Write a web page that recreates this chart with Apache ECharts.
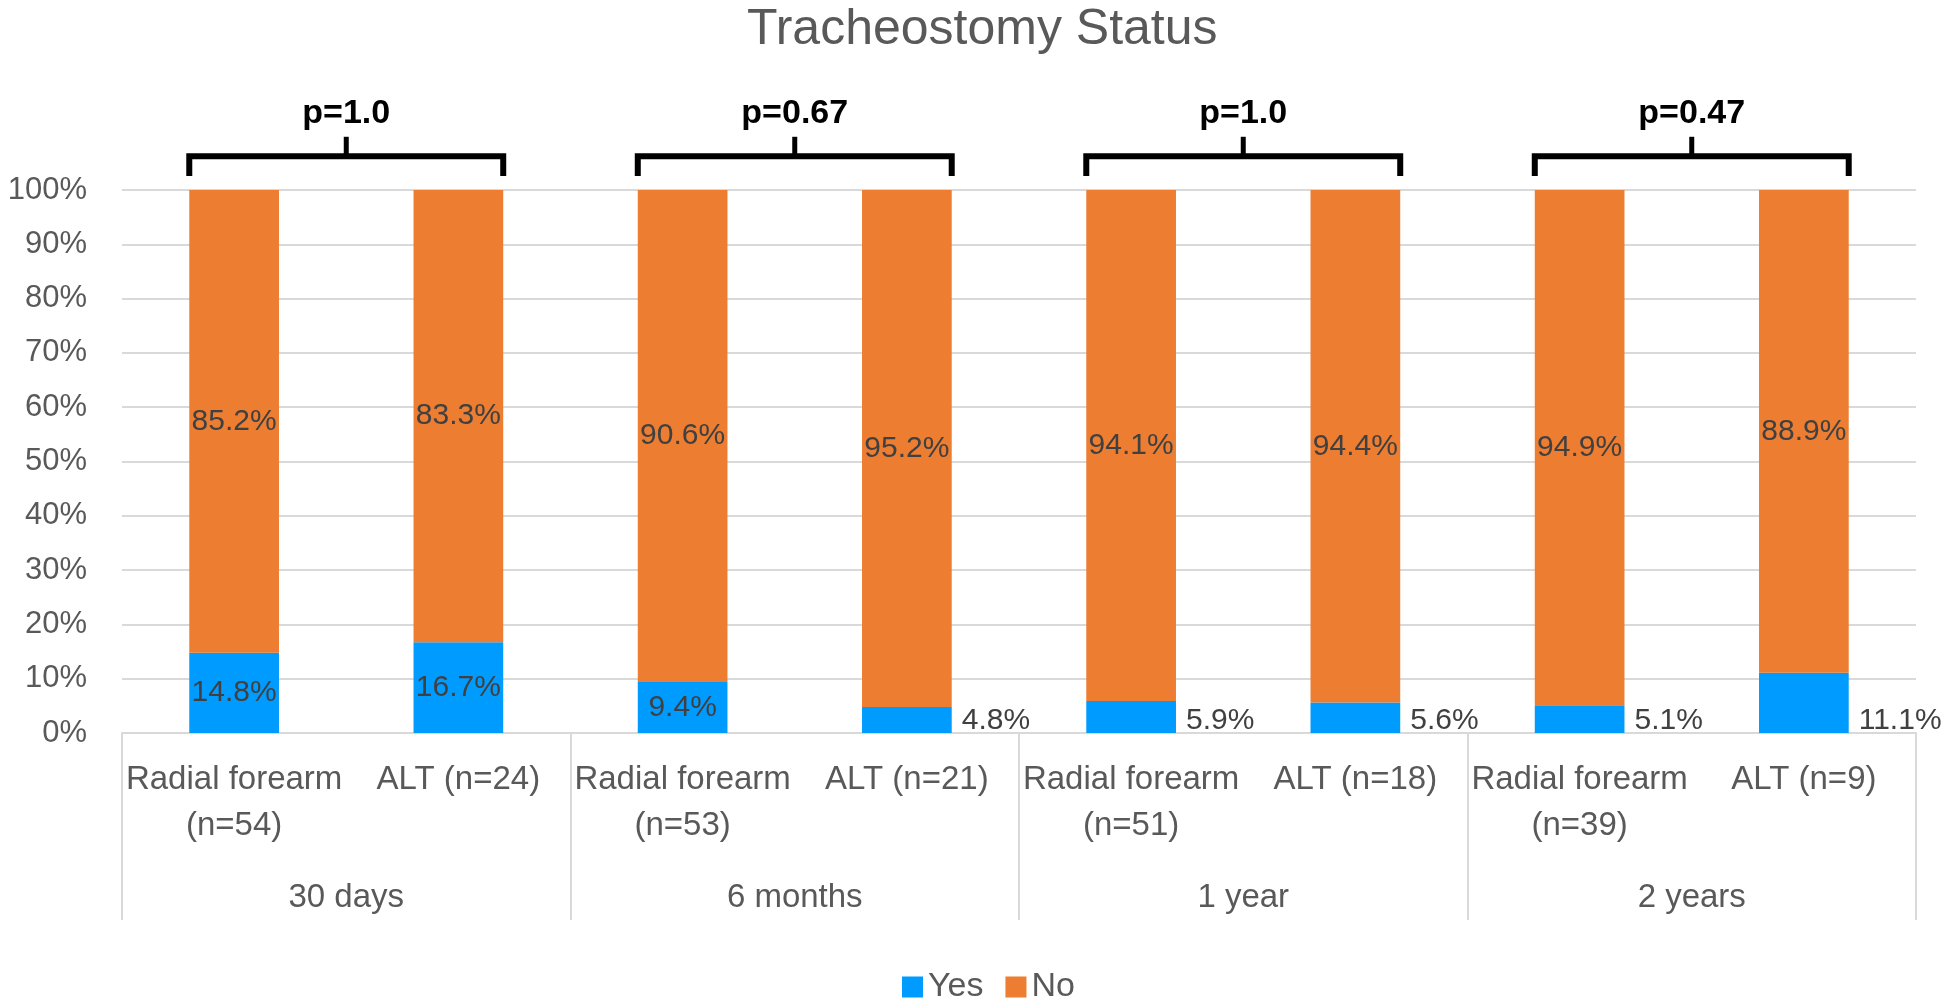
<!DOCTYPE html>
<html>
<head>
<meta charset="utf-8">
<script src="https://cdn.jsdelivr.net/npm/echarts@6/dist/echarts.min.js"></script>
<style>
  html, body { margin: 0; padding: 0; background: #fff; }
  #chart { width: 1950px; height: 1001px; }
</style>
</head>
<body>
<div id="chart"></div>
<script>
const subCategories = [
  'Radial forearm\n(n=54)', 'ALT (n=24)',
  'Radial forearm\n(n=53)', 'ALT (n=21)',
  'Radial forearm\n(n=51)', 'ALT (n=18)',
  'Radial forearm\n(n=39)', 'ALT (n=9)'
];
const groupCategories = ['30 days', '6 months', '1 year', '2 years'];
const yesValues = [14.8, 16.7, 9.4, 4.8, 5.9, 5.6, 5.1, 11.1];
const noValues = [85.2, 83.3, 90.6, 95.2, 94.1, 94.4, 94.9, 88.9];
const pValues = ['p=1.0', 'p=0.67', 'p=1.0', 'p=0.47'];
const yTicks = [0, 10, 20, 30, 40, 50, 60, 70, 80, 90, 100];

const FONT = 'Liberation Sans';
const GRAY = '#595959';
const LABEL = '#404040';
const BAR_FRAC = 0.4;
const BRACKET_LEVEL = 106.2;

const chart = echarts.init(document.getElementById('chart'));

// first three "Yes" labels sit inside their bars, the rest to the right
const yesData = yesValues.map(function (v, idx) {
  return {
    value: v,
    label: idx >= 3 ? {
      position: ['100%', '100%'],
      align: 'left',
      verticalAlign: 'bottom',
      offset: [10, 3]
    } : { position: 'inside' }
  };
});

const option = {
  backgroundColor: '#ffffff',
  animation: false,
  textStyle: { fontFamily: FONT },
  title: {
    text: 'Tracheostomy Status',
    left: 742,
    top: 0,
    textStyle: { fontFamily: FONT, fontSize: 50, fontWeight: 'normal', color: GRAY }
  },
  legend: {
    data: ['Yes', 'No'],
    left: 897,
    top: 965,
    icon: 'rect',
    itemWidth: 21,
    itemHeight: 21,
    itemGap: 22,
    textStyle: { fontFamily: FONT, fontSize: 34, color: GRAY }
  },
  grid: { left: 122, right: 34, top: 190, bottom: 268, containLabel: false },
  xAxis: [
    {
      type: 'category',
      data: subCategories,
      position: 'bottom',
      axisLine: { show: true, lineStyle: { color: '#d9d9d9', width: 2 } },
      axisTick: { show: false },
      axisLabel: {
        interval: 0,
        fontFamily: FONT,
        fontSize: 33,
        color: GRAY,
        lineHeight: 46,
        margin: 24
      }
    },
    {
      type: 'category',
      data: groupCategories,
      position: 'bottom',
      axisLine: { show: false },
      axisTick: { show: true, length: 187, lineStyle: { color: '#d9d9d9', width: 2 } },
      axisLabel: {
        interval: 0,
        fontFamily: FONT,
        fontSize: 33,
        color: GRAY,
        margin: 148
      }
    }
  ],
  yAxis: {
    type: 'value',
    min: 0,
    max: 100,
    interval: 10,
    axisLine: { show: false },
    axisTick: { show: false },
    splitLine: { lineStyle: { color: '#d9d9d9', width: 2 } },
    axisLabel: {
      fontFamily: FONT,
      fontSize: 31,
      color: GRAY,
      margin: 35,
      formatter: function (v) { return yTicks.indexOf(v) >= 0 ? v + '%' : ''; }
    }
  },
  series: [
    {
      name: 'Yes',
      type: 'bar',
      stack: 'total',
      barWidth: (BAR_FRAC * 100) + '%',
      itemStyle: { color: '#009BFF' },
      label: {
        show: true,
        fontFamily: FONT,
        fontSize: 30,
        color: LABEL,
        formatter: function (p) { return p.value.toFixed(1) + '%'; }
      },
      data: yesData
    },
    {
      name: 'No',
      type: 'bar',
      stack: 'total',
      barWidth: (BAR_FRAC * 100) + '%',
      itemStyle: { color: '#ED7D31' },
      label: {
        show: true,
        position: 'inside',
        fontFamily: FONT,
        fontSize: 30,
        color: LABEL,
        formatter: function (p) { return p.value.toFixed(1) + '%'; }
      },
      data: noValues
    },
    {
      type: 'custom',
      name: 'brackets',
      clip: false,
      silent: true,
      z: 10,
      data: pValues.map(function (p, i) { return [2 * i, BRACKET_LEVEL]; }),
      renderItem: function (params, api) {
        const i = params.dataIndex;
        const lc = api.value(0);
        const level = api.value(1);
        const catW = api.size([1, 0])[0];
        const bw = catW * BAR_FRAC;
        const pl = api.coord([lc, level]);
        const pr = api.coord([lc + 1, level]);
        const xl = pl[0] - bw / 2;
        const xr = pr[0] + bw / 2;
        const y = pl[1];
        const yEnd = api.coord([lc, level - 3.6])[1];
        const yTick = api.coord([lc, level + 3.6])[1];
        const yText = api.coord([lc, level + 7.8])[1];
        const xc = (xl + xr) / 2;
        return {
          type: 'group',
          children: [
            {
              type: 'polyline',
              shape: { points: [[xl, yEnd], [xl, y], [xr, y], [xr, yEnd]] },
              style: { stroke: '#000', lineWidth: 6, fill: null, lineJoin: 'miter' }
            },
            {
              type: 'line',
              shape: { x1: xc, y1: y, x2: xc, y2: yTick },
              style: { stroke: '#000', lineWidth: 5 }
            },
            {
              type: 'text',
              style: {
                x: xc, y: yText,
                text: pValues[i],
                fill: '#000',
                font: 'bold 34px "' + FONT + '"',
                textAlign: 'center',
                textVerticalAlign: 'middle'
              }
            }
          ]
        };
      }
    }
  ]
};

chart.setOption(option);
</script>
</body>
</html>
